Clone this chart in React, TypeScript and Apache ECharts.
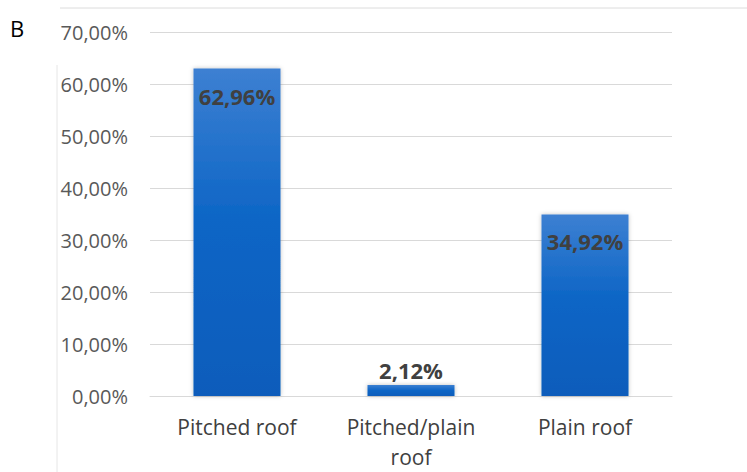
import React, { useEffect, useRef } from "react";
import * as echarts from "echarts";

const categories = ["Pitched roof", "Pitched/plain\nroof", "Plain roof"];
const values = [62.96, 2.12, 34.92];
const labelPositions = ["insideTop", "top", "insideTop"];
const yTicks = { min: 0, max: 70, interval: 10 };

const fmt = (v: number) => v.toFixed(2).replace(".", ",") + "%";

export default function App() {
  const ref = useRef<HTMLDivElement>(null);
  useEffect(() => {
    const chart = echarts.init(ref.current!, null, { renderer: "svg" });
    const grad = new echarts.graphic.LinearGradient(0, 0, 0, 1, [
      { offset: 0, color: "#3d80d2" },
      { offset: 0.45, color: "#0e66c6" },
      { offset: 1, color: "#0b5cbb" },
    ]);
    chart.setOption({
      animation: false,
      backgroundColor: "#ffffff",
      grid: { left: 150, right: 75, top: 32, bottom: 75, containLabel: false },
      xAxis: {
        type: "category",
        data: categories,
        axisLine: { show: true, lineStyle: { color: "#d9d9d9", width: 1 } },
        axisTick: { show: false },
        axisLabel: {
          color: "#404040",
          fontFamily: "Open Sans",
          fontSize: 21,
          lineHeight: 30,
          margin: 16,
          interval: 0,
        },
      },
      yAxis: {
        type: "value",
        min: yTicks.min,
        max: yTicks.max,
        interval: yTicks.interval,
        axisLine: { show: false },
        axisTick: { show: false },
        splitLine: { lineStyle: { color: "#d9d9d9", width: 1 } },
        axisLabel: {
          color: "#595959",
          fontFamily: "Open Sans",
          fontSize: 20,
          margin: 22,
          formatter: (v: number) => fmt(v),
        },
      },
      series: [
        {
          type: "bar",
          barWidth: "50%",
          data: values.map((v, i) => ({
            value: v,
            label: {
              position: labelPositions[i],
              distance: labelPositions[i] === "top" ? 4 : 16,
            },
          })),
          itemStyle: {
            color: grad,
            shadowColor: "rgba(0,0,0,0.25)",
            shadowBlur: 4,
          },
          label: {
            show: true,
            color: "#404040",
            fontFamily: "Open Sans",
            fontWeight: "bold",
            fontSize: 22,
            formatter: (p: any) => fmt(p.value),
          },
        },
      ],
      graphic: [
        {
          type: "text",
          left: 10,
          top: 17,
          style: { text: "B", fontFamily: "Open Sans", fontSize: 22, fill: "#000" },
        },
        {
          type: "line",
          shape: { x1: 60, y1: 8, x2: 747, y2: 8 },
          style: { stroke: "#dcdcdc", lineWidth: 1 },
        },
        {
          type: "line",
          shape: { x1: 57, y1: 65, x2: 57, y2: 472 },
          style: { stroke: "#e6e6e6", lineWidth: 1 },
        },
      ],
    });
    return () => chart.dispose();
  }, []);
  return <div ref={ref} style={{ width: 747, height: 472, position: "absolute", left: 0, top: 0 }} />;
}
